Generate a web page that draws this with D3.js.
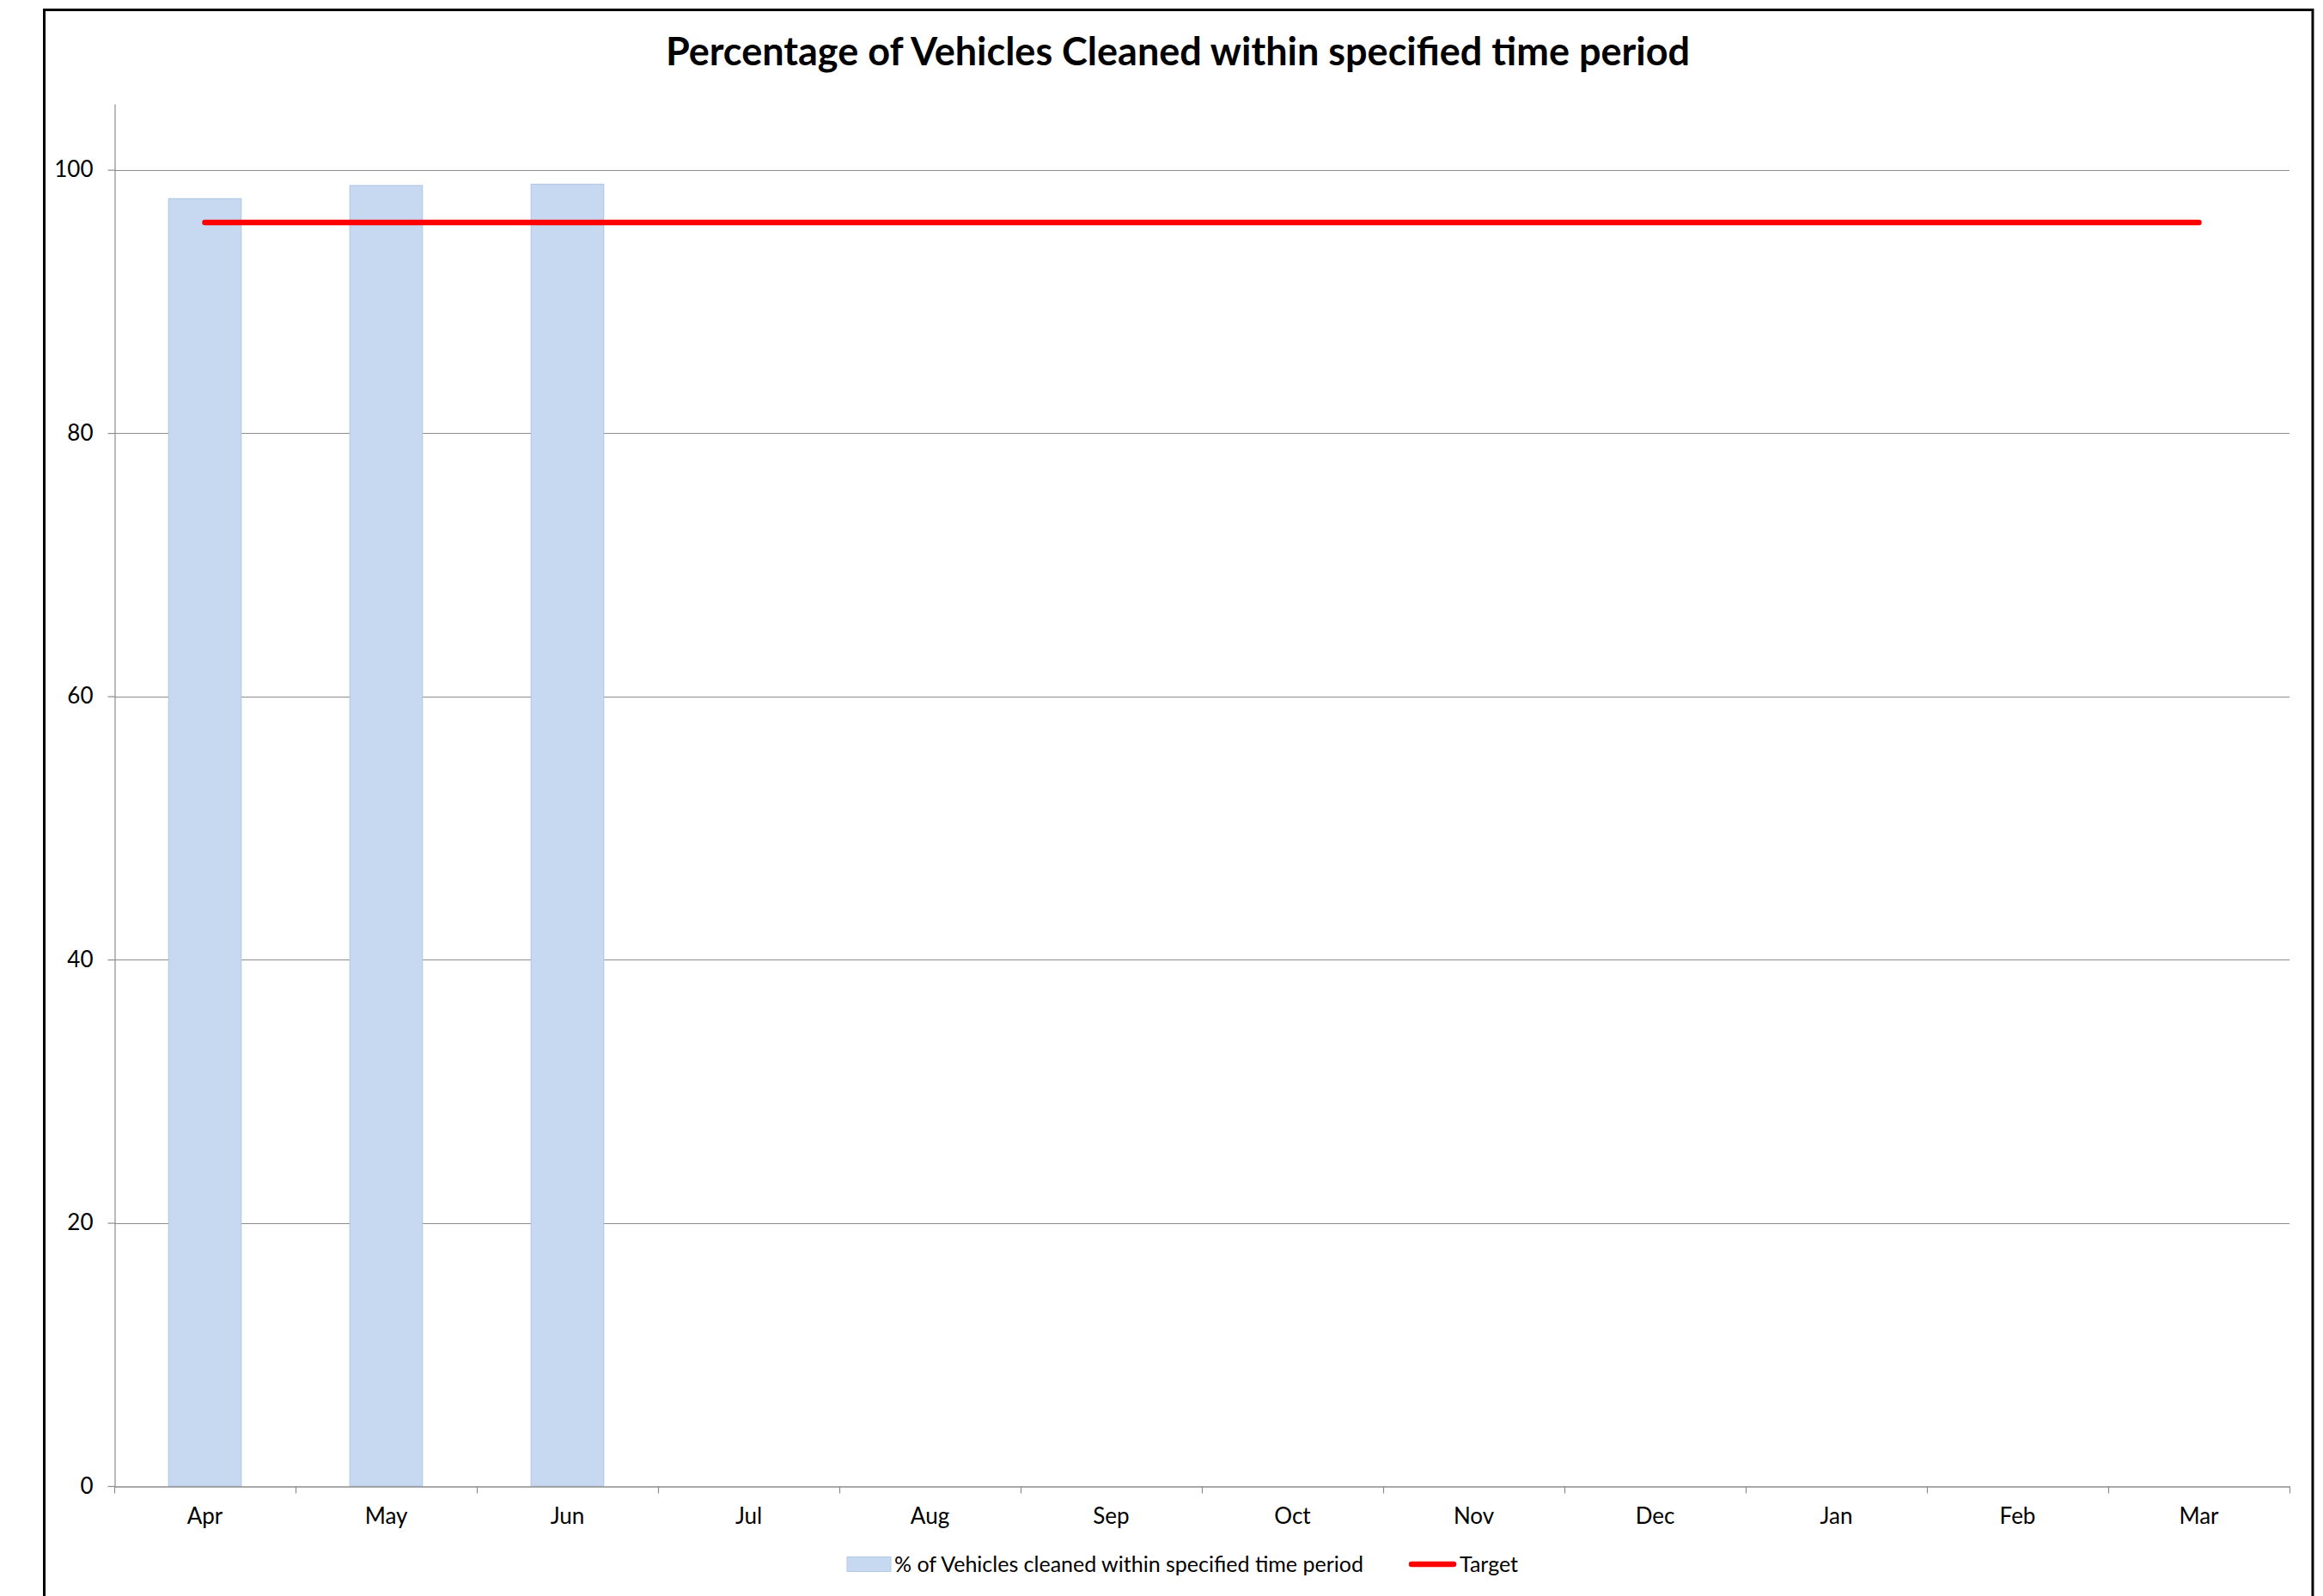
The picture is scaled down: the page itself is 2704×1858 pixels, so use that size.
<!DOCTYPE html>
<html>
<head>
<meta charset="utf-8">
<script src="https://cdn.jsdelivr.net/npm/d3@7"></script>
<style>
  html, body { margin: 0; padding: 0; background: #fff; }
  svg { display: block; }
  text { font-family: Lato, "Open Sans", sans-serif; fill: #000; }
</style>
</head>
<body>
<script>
// Monthly categories (financial year Apr–Mar)
const months = ["Apr", "May", "Jun", "Jul", "Aug", "Sep", "Oct", "Nov", "Dec", "Jan", "Feb", "Mar"];
// % of vehicles cleaned within the specified time period (only Apr–Jun reported)
const cleanedPct = [97.8, 98.8, 98.9, null, null, null, null, null, null, null, null, null];
// Target percentage for every month
const targetPct = [96, 96, 96, 96, 96, 96, 96, 96, 96, 96, 96, 96];
const yTicks = [0, 20, 40, 60, 80, 100];

const chartTitle = "Percentage of Vehicles Cleaned within specified time period";
const seriesName = "% of Vehicles cleaned within specified time period";
const targetName = "Target";

const W = 2704, H = 1858;
const plot = { left: 133, right: 2665, top: 121, bottom: 1730 };

const barFill = "#C6D9F1", barStroke = "#B3C8E6";
const gridColor = "#8C8C8C";
const targetColor = "#FF0000";

const svg = d3.select("body").append("svg")
  .attr("width", W).attr("height", H);

// Outer chart frame
svg.append("rect")
  .attr("x", 51.5).attr("y", 11.5)
  .attr("width", 2692 - 51.5).attr("height", H + 20)
  .attr("fill", "#fff").attr("stroke", "#000").attr("stroke-width", 3);

// Title
svg.append("text")
  .attr("x", 1371).attr("y", 76)
  .attr("text-anchor", "middle")
  .style("font-weight", "700")
  .style("font-size", "45px")
  .text(chartTitle);

const x = d3.scaleBand().domain(months).range([plot.left, plot.right]).padding(0);
const y = d3.scaleLinear().domain([0, 105]).range([plot.bottom, plot.top]);
const bw = x.bandwidth();

// Horizontal gridlines
svg.append("g").selectAll("line")
  .data(yTicks.filter(d => d > 0))
  .join("line")
  .attr("x1", plot.left).attr("x2", plot.right)
  .attr("y1", d => Math.round(y(d)) + 0.5).attr("y2", d => Math.round(y(d)) + 0.5)
  .attr("stroke", gridColor).attr("stroke-width", 1.2);

// Bars
svg.append("g").selectAll("rect")
  .data(months.map((m, i) => ({ m, v: cleanedPct[i] })).filter(d => d.v != null))
  .join("rect")
  .attr("x", d => x(d.m) + bw * 0.3)
  .attr("width", bw * 0.4)
  .attr("y", d => y(d.v))
  .attr("height", d => y(0) - y(d.v))
  .attr("fill", barFill)
  .attr("stroke", barStroke)
  .attr("stroke-width", 1.2);

// Y axis
const yAxis = svg.append("g")
  .attr("transform", `translate(${plot.left + 0.5},0)`)
  .call(d3.axisLeft(y).tickValues(yTicks).tickSize(8).tickPadding(17).tickSizeOuter(0));
yAxis.select(".domain").attr("stroke", gridColor).attr("stroke-width", 1.2);
yAxis.selectAll(".tick line").attr("stroke", gridColor).attr("stroke-width", 1.2);
yAxis.selectAll(".tick text").style("font-size", "26px").style("font-family", "Lato, sans-serif").attr("fill", "#000");

// X axis: month labels centred on bands, tick marks on band boundaries
const xTickScale = d3.scaleLinear().domain([0, months.length]).range([plot.left, plot.right]);
const xTicks = svg.append("g")
  .attr("transform", `translate(0,${plot.bottom + 0.5})`)
  .call(d3.axisBottom(xTickScale).tickValues(d3.range(months.length + 1)).tickSize(8).tickSizeOuter(0).tickFormat(""));
xTicks.select(".domain").attr("stroke", gridColor).attr("stroke-width", 1.5);
xTicks.selectAll(".tick line").attr("stroke", gridColor).attr("stroke-width", 1.2);

const xLabels = svg.append("g")
  .attr("transform", `translate(0,${plot.bottom})`)
  .call(d3.axisBottom(x).tickSize(0).tickPadding(26));
xLabels.select(".domain").remove();
xLabels.selectAll(".tick text").style("font-size", "26px").style("font-family", "Lato, sans-serif").attr("fill", "#000");

// Target line
const line = d3.line()
  .x((d, i) => x(months[i]) + bw / 2)
  .y(d => y(d));
svg.append("path")
  .datum(targetPct)
  .attr("d", line)
  .attr("fill", "none")
  .attr("stroke", targetColor)
  .attr("stroke-width", 6.5)
  .attr("stroke-linecap", "round");

// Legend
const legend = svg.append("g").attr("transform", "translate(0,1821)");
legend.append("rect")
  .attr("x", 986).attr("y", -8.5).attr("width", 51).attr("height", 17)
  .attr("fill", barFill).attr("stroke", barStroke).attr("stroke-width", 1);
legend.append("text")
  .attr("x", 1041).attr("y", 0).attr("dy", "0.35em")
  .style("font-size", "25px")
  .text(seriesName);
legend.append("line")
  .attr("x1", 1643).attr("x2", 1692).attr("y1", 0).attr("y2", 0)
  .attr("stroke", targetColor).attr("stroke-width", 6.5).attr("stroke-linecap", "round");
legend.append("text")
  .attr("x", 1699).attr("y", 0).attr("dy", "0.35em")
  .style("font-size", "25px")
  .text(targetName);
</script>
</body>
</html>
